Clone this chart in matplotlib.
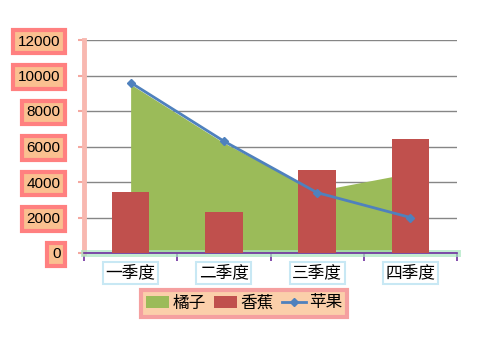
import matplotlib.pyplot as plt
import matplotlib.patheffects as pe
import numpy as np

plt.rcParams['font.family'] = ['Noto Sans CJK SC', 'DejaVu Sans']

quarters = ['一季度', '二季度', '三季度', '四季度']
orange = [9500, 6200, 3500, 4500]   # 橘子 (area)
banana = [3450, 2300, 4700, 6400]   # 香蕉 (bars)
apple = [9600, 6300, 3400, 2000]    # 苹果 (line)
yticks = [0, 2000, 4000, 6000, 8000, 10000, 12000]

green = '#9BBB59'
red = '#C0504D'
blue = '#4F81BD'

fig = plt.figure(figsize=(4.96, 3.49), dpi=100)
ax = fig.add_axes([84 / 496, 1 - 253 / 349, (457 - 84) / 496, (253 - 40) / 349])

x = np.arange(len(quarters))
h_area = ax.fill_between(x, orange, color=green, zorder=2, label='橘子', linewidth=0)
h_bar = ax.bar(x, banana, width=0.4, color=red, zorder=3, label='香蕉')
h_line, = ax.plot(x, apple, color=blue, lw=2, marker='D', ms=4, zorder=4, label='苹果')

ax.set_xlim(-0.5, 3.5)
ax.set_ylim(0, 12000)
ax.set_yticks(yticks)
ax.set_yticklabels([str(v) for v in yticks], fontfamily='Liberation Sans', fontsize=11)
ax.yaxis.grid(True, color='#868686', lw=1)
ax.set_axisbelow(True)

for lab in ax.get_yticklabels():
    lab.set_bbox(dict(boxstyle='square,pad=0.3', facecolor='#FAC090',
                      edgecolor='#FF8080', linewidth=3))

ax.set_xticks(np.arange(-0.5, 4, 1))
ax.set_xticklabels([])
ax.tick_params(axis='x', length=6, color='#7030A0', width=1.2)
ax.tick_params(axis='y', length=4, color='#F4A8A0', width=1.5, pad=13)
for i, q in enumerate(quarters):
    ax.text(i, -1100, q, ha='center', va='center', fontsize=12,
            bbox=dict(boxstyle='square,pad=0.15', facecolor='white',
                      edgecolor='#C8E8F4', linewidth=1.5))

for s in ['top', 'right']:
    ax.spines[s].set_visible(False)
ax.spines['left'].set_color('#F8B8B0')
ax.spines['left'].set_linewidth(3.5)
ax.spines['bottom'].set_color('#7030A0')
ax.spines['bottom'].set_linewidth(1.2)
ax.spines['bottom'].set_path_effects([
    pe.Stroke(linewidth=5, foreground='#A8E6C0', alpha=0.7), pe.Normal()])

leg = fig.legend([h_area, h_bar, h_line], ['橘子', '香蕉', '苹果'],
                 loc='center', bbox_to_anchor=(244 / 496, 1 - 303 / 349), ncol=3,
                 fontsize=12, frameon=True, fancybox=False, handlelength=1.4,
                 handletextpad=0.2, columnspacing=0.5, borderpad=0.3)
leg.get_frame().set_facecolor('#FBCFAA')
leg.get_frame().set_edgecolor('#F5A0A0')
leg.get_frame().set_linewidth(3)
leg.get_frame().set_alpha(1)

fig.savefig('out.png', dpi=100)
